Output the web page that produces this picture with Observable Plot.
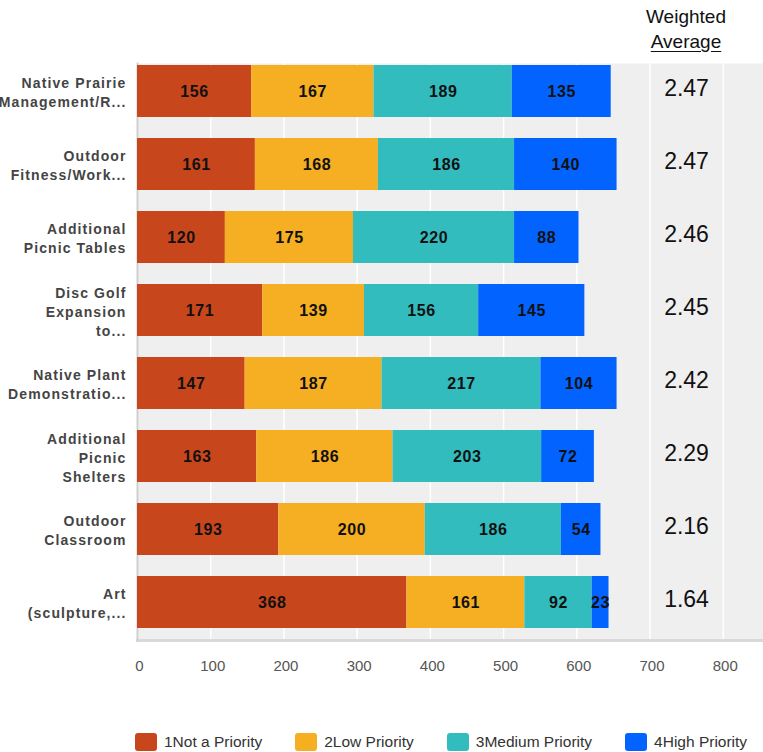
<!DOCTYPE html>
<html>
<head>
<meta charset="utf-8">
<script src="https://cdn.jsdelivr.net/npm/d3@7"></script>
<script src="https://cdn.jsdelivr.net/npm/@observablehq/plot@0.6"></script>
<style>
  body { margin: 0; background: #fff; font-family: "Liberation Sans", Arial, sans-serif; }
  #wrap { position: relative; width: 763px; height: 752px; }
  #head { position: absolute; left: 636px; width: 100px; top: 4px; text-align: center; font-size: 19px; line-height: 25px; color: #111; }
  #head u { text-underline-offset: 3px; }
  #legend { position: absolute; left: 135px; top: 733px; display: flex; gap: 33px; font-size: 15.5px; color: #333; }
  #legend .item { display: flex; align-items: center; gap: 7px; }
  #legend .sw { width: 22px; height: 18px; border-radius: 3px; }
  #chart g[fill="#444"] { letter-spacing: 1.1px; }
  #chart g[fill="#111"][font-weight="bold"] { letter-spacing: 0.6px; }
</style>
</head>
<body>
<div id="wrap">
  <div id="chart"></div>
  <div id="head">Weighted<br><u>Average</u></div>
  <div id="legend"></div>
</div>
<script>
const categories = [
  "Native Prairie Management/R...",
  "Outdoor Fitness/Work...",
  "Additional Picnic Tables",
  "Disc Golf Expansion to...",
  "Native Plant Demonstratio...",
  "Additional Picnic Shelters",
  "Outdoor Classroom",
  "Art (sculpture,..."
];
const categoryLabels = [
  "Native Prairie\nManagement/R...",
  "Outdoor\nFitness/Work...",
  "Additional\nPicnic Tables",
  "Disc Golf\nExpansion\nto...",
  "Native Plant\nDemonstratio...",
  "Additional\nPicnic\nShelters",
  "Outdoor\nClassroom",
  "Art\n(sculpture,..."
];
const seriesNames = ["1Not a Priority", "2Low Priority", "3Medium Priority", "4High Priority"];
const notPriority    = [156, 161, 120, 171, 147, 163, 193, 368];
const lowPriority    = [167, 168, 175, 139, 187, 186, 200, 161];
const mediumPriority = [189, 186, 220, 156, 217, 203, 186, 92];
const highPriority   = [135, 140, 88, 145, 104, 72, 54, 23];
const weightedAverage = [2.47, 2.47, 2.46, 2.45, 2.42, 2.29, 2.16, 1.64];
const seriesColors = ["#c8461b", "#f6ae22", "#33bcbd", "#0263fe"];
const xTicks = [0, 100, 200, 300, 400, 500, 600, 700, 800];

const seriesValues = [notPriority, lowPriority, mediumPriority, highPriority];
const table = [];
seriesNames.forEach((s, si) => {
  categories.forEach((c, ci) => {
    table.push({category: c, series: s, value: seriesValues[si][ci]});
  });
});
const labelOf = new Map(categories.map((c, i) => [c, categoryLabels[i]]));
const avgOf = new Map(categories.map((c, i) => [c, weightedAverage[i]]));

const chart = Plot.plot({
  width: 763,
  height: 700,
  marginLeft: 137,
  marginRight: 0,
  marginTop: 63,
  marginBottom: 60,
  style: {fontFamily: "'Liberation Sans', Arial, sans-serif", background: "transparent"},
  x: {domain: [0, 855], axis: null},
  y: {domain: categories, range: [63.5, 630], paddingInner: 0.285, paddingOuter: 0, axis: null},
  color: {domain: seriesNames, range: seriesColors},
  marks: [
    Plot.frame({fill: "#efefef", stroke: null}),
    Plot.gridX(xTicks, {stroke: "#ffffff", strokeOpacity: 1, strokeWidth: 1.5}),
    Plot.frame({anchor: "bottom", stroke: "#d9d9d9", strokeWidth: 3}),
    Plot.frame({anchor: "left", stroke: "#cfcfcf", strokeWidth: 2}),
    Plot.axisX(xTicks, {anchor: "bottom", tickSize: 0, tickPadding: 20, fontSize: 15, fill: "#555", label: null, dx: 2}),
    Plot.barX(table, Plot.stackX({x: "value", y: "category", fill: "series"})),
    Plot.text(table, Plot.stackX({
      x: "value", y: "category", text: d => String(d.value),
      fontSize: 16, fontWeight: "bold", fill: "#111"
    })),
    Plot.text(categories, {
      y: d => d, text: d => labelOf.get(d),
      frameAnchor: "left", textAnchor: "end", dx: -11, lineHeight: 1.36,
      fontSize: 14, fontWeight: "bold", fill: "#444"
    }),
    Plot.text(categories, {
      y: d => d, text: d => avgOf.get(d).toFixed(2),
      frameAnchor: "right", textAnchor: "middle", dx: -77, dy: -3,
      fontSize: 23, fill: "#111"
    })
  ]
});
document.getElementById("chart").appendChild(chart);

const legend = d3.select("#legend");
seriesNames.forEach((s, i) => {
  const item = legend.append("div").attr("class", "item");
  item.append("div").attr("class", "sw").style("background", seriesColors[i]);
  item.append("span").text(s);
});
</script>
</body>
</html>
